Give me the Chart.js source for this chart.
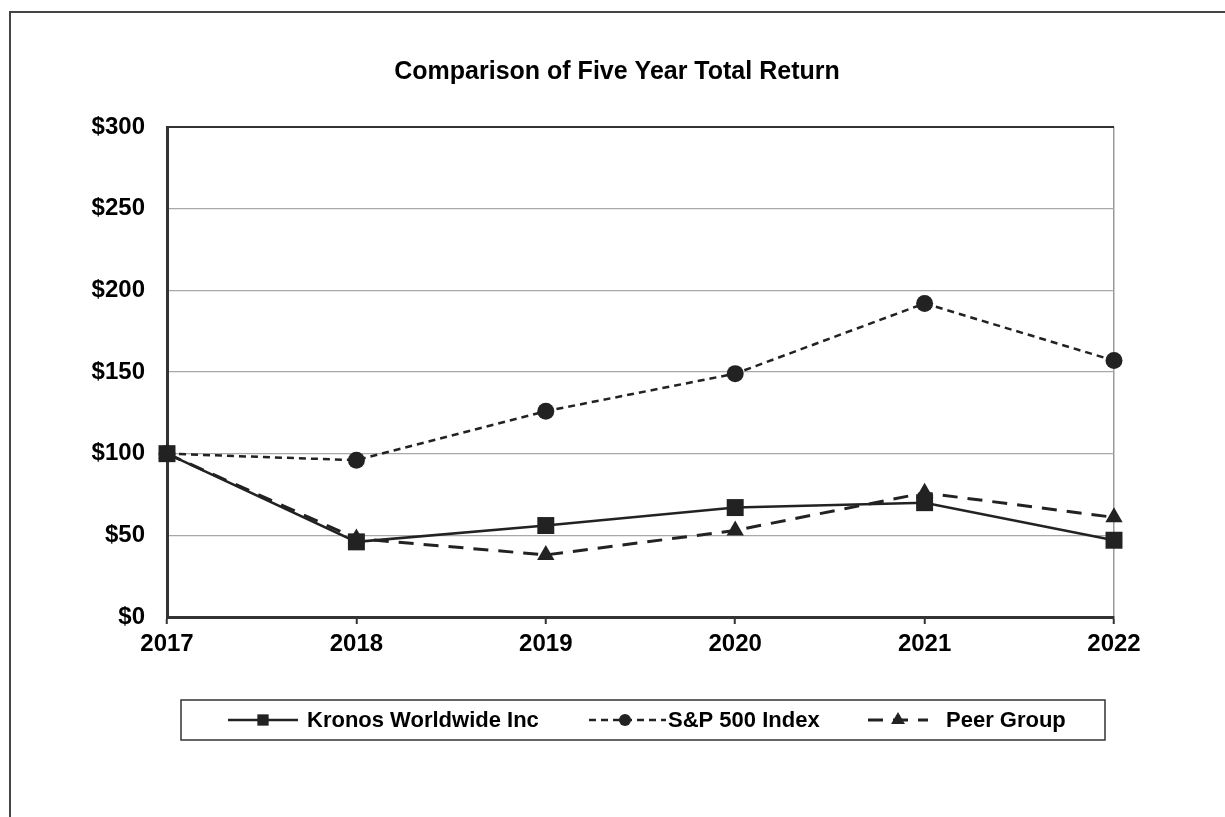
<!DOCTYPE html>
<html lang="en">
<head>
  <meta charset="UTF-8" />
  <title>Comparison of Five Year Total Return</title>
  <script src="https://cdn.jsdelivr.net/npm/chart.js"></script>
  <style>
    body { margin: 0; background: #fff; }
    .wrap { position: relative; width: 1225px; height: 817px; overflow: hidden; }
    .frame { position: absolute; left: 9px; top: 11px; width: 3000px; height: 3000px;
             border-left: 2px solid #444; border-top: 2px solid #444; pointer-events: none; }
    canvas { position: absolute; left: 0; top: 0; }
  </style>
</head>
<body>
<div class="wrap">
  <canvas id="returnChart" width="1225" height="817"></canvas>
  <div class="frame"></div>
</div>

<script>
  // chart data
  const years = ['2017', '2018', '2019', '2020', '2021', '2022'];
  const kronos = [100, 46, 56, 67, 70, 47];
  const sp500 = [100, 96, 126, 149, 192, 157];
  const peerGroup = [100, 48, 38, 53, 76, 61];
  const yTicks = [0, 50, 100, 150, 200, 250, 300];

  const ink = '#222';
  const font = 'Arial, "Liberation Sans", Helvetica, sans-serif';

  // legend drawn inside the canvas (line sample + marker + label, boxed)
  const boxedLegend = {
    id: 'boxedLegend',
    afterDraw(chart, args, opts) {
      const ctx = chart.ctx;
      const b = opts.box;
      ctx.save();
      ctx.strokeStyle = '#333';
      ctx.lineWidth = 1.5;
      ctx.strokeRect(b.x, b.y, b.w, b.h);
      const cy = b.y + b.h / 2;
      chart.data.datasets.forEach((ds, i) => {
        const it = opts.items[i];
        ctx.strokeStyle = ds.borderColor;
        ctx.lineWidth = ds.borderWidth;
        ctx.setLineDash(ds.borderDash || []);
        ctx.beginPath();
        ctx.moveTo(it.x0, cy);
        ctx.lineTo(it.x1, cy);
        ctx.stroke();
        ctx.setLineDash([]);
        ctx.fillStyle = ds.pointBackgroundColor;
        Chart.helpers.drawPoint(ctx, { pointStyle: ds.pointStyle, radius: it.r, borderWidth: 0 }, it.m, cy);
        ctx.fillStyle = '#000';
        ctx.font = 'bold 22px ' + font;
        ctx.textBaseline = 'middle';
        ctx.textAlign = 'left';
        ctx.fillText(ds.label, it.tx, cy + 1);
      });
      ctx.restore();
    }
  };

  const titlePlugin = {
    id: 'topTitle',
    afterDraw(chart) {
      const ctx = chart.ctx;
      ctx.save();
      ctx.fillStyle = '#000';
      ctx.font = 'bold 25px ' + font;
      ctx.textAlign = 'center';
      ctx.textBaseline = 'middle';
      ctx.fillText('Comparison of Five Year Total Return', 617, 72);
      ctx.restore();
    }
  };

  new Chart(document.getElementById('returnChart'), {
    type: 'line',
    data: {
      labels: years,
      datasets: [
        {
          label: 'Kronos Worldwide Inc',
          data: kronos,
          borderColor: ink,
          borderWidth: 2.5,
          pointStyle: 'rect',
          pointRadius: 12,
          pointBackgroundColor: ink,
          pointBorderWidth: 0
        },
        {
          label: 'S&P 500 Index',
          data: sp500,
          borderColor: ink,
          borderWidth: 2.5,
          borderDash: [7, 5],
          pointStyle: 'circle',
          pointRadius: 8.5,
          pointBackgroundColor: ink,
          pointBorderWidth: 0
        },
        {
          label: 'Peer Group',
          data: peerGroup,
          borderColor: ink,
          borderWidth: 3,
          borderDash: [15, 10],
          pointStyle: 'triangle',
          pointRadius: 10,
          pointBackgroundColor: ink,
          pointBorderWidth: 0
        }
      ]
    },
    options: {
      responsive: false,
      animation: false,
      events: [],
      clip: false,
      layout: { padding: { top: 127, left: 0, right: 111, bottom: 140 } },
      elements: { line: { tension: 0 } },
      plugins: {
        legend: { display: false },
        tooltip: { enabled: false },
        boxedLegend: {
          box: { x: 181, y: 700, w: 924, h: 40 },
          items: [
            { x0: 228, x1: 298, m: 263, r: 8, tx: 307 },
            { x0: 589, x1: 666, m: 625, r: 6, tx: 668 },
            { x0: 868, x1: 928, m: 898, r: 8, tx: 946 }
          ]
        }
      },
      scales: {
        x: {
          offset: false,
          grid: {
            drawOnChartArea: true,
            color: (c) => c.index === years.length - 1 ? '#999' : 'rgba(0,0,0,0)',
            tickColor: '#333',
            tickLength: 7,
            lineWidth: 1.5,
            tickWidth: 2
          },
          border: { color: '#333', width: 3 },
          ticks: {
            color: '#000',
            font: { family: font, size: 24, weight: 'bold' },
            padding: 6,
            maxRotation: 0,
            autoSkip: false
          },
          afterFit: (s) => { s.height = 60; }
        },
        y: {
          min: 0,
          max: 300,
          afterBuildTicks: (s) => { s.ticks = yTicks.map(v => ({ value: v })); },
          grid: {
            drawTicks: false,
            color: (c) => c.tick.value === 300 ? '#333' : '#a8a8a8',
            lineWidth: (c) => c.tick.value === 300 ? 2 : 1.2
          },
          border: { color: '#333', width: 3 },
          ticks: {
            color: '#000',
            font: { family: font, size: 24, weight: 'bold' },
            padding: 22,
            callback: (v) => '$' + v
          },
          afterFit: (s) => { s.width = 167; }
        }
      }
    },
    plugins: [boxedLegend, titlePlugin]
  });
</script>
</body>
</html>
